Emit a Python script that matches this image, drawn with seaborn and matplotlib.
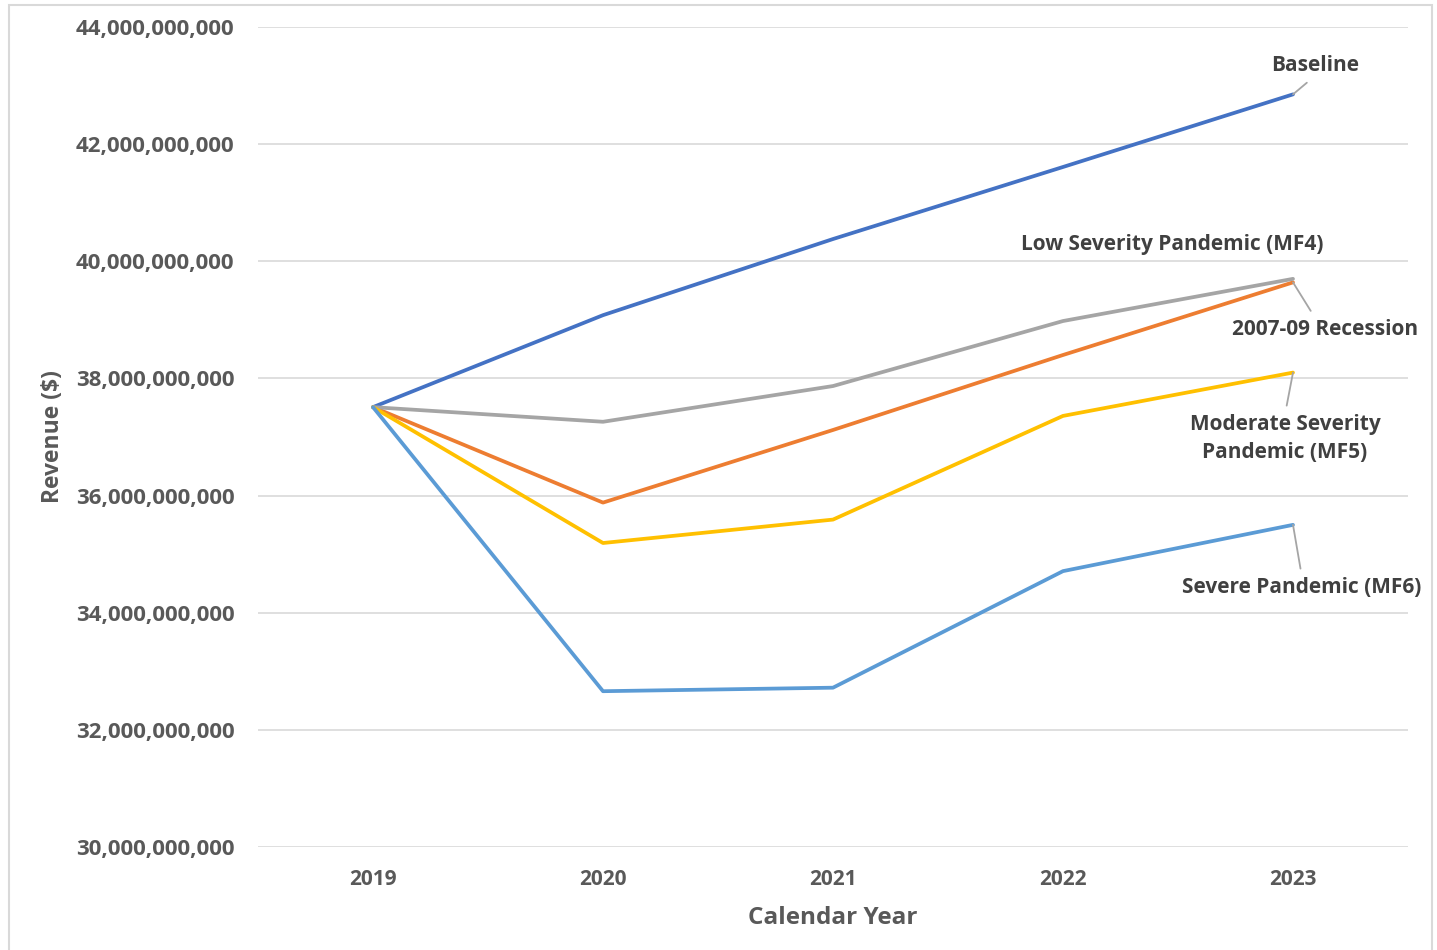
import matplotlib
matplotlib.use("Agg")
import matplotlib.pyplot as plt
from matplotlib.patches import Rectangle
from matplotlib.ticker import FuncFormatter, MultipleLocator
import seaborn as sns
import pandas as pd

# Revenue projections by scenario ($)
years = ["2019", "2020", "2021", "2022", "2023"]
baseline = [37.51e9, 39.08e9, 40.38e9, 41.61e9, 42.85e9]
recession = [37.51e9, 35.88e9, 37.12e9, 38.40e9, 39.64e9]
low_severity = [37.51e9, 37.26e9, 37.87e9, 38.98e9, 39.70e9]
moderate = [37.51e9, 35.19e9, 35.59e9, 37.36e9, 38.10e9]
severe = [37.51e9, 32.66e9, 32.72e9, 34.71e9, 35.50e9]

series_names = ["Baseline", "2007-09 Recession", "Low Severity Pandemic (MF4)",
                "Moderate Severity Pandemic (MF5)", "Severe Pandemic (MF6)"]
series_values = [baseline, recession, low_severity, moderate, severe]
series_colors = ["#4472C4", "#ED7D31", "#A5A5A5", "#FFC000", "#5B9BD5"]

rows = []
for name, vals in zip(series_names, series_values):
    for i, (yr, v) in enumerate(zip(years, vals)):
        rows.append({"Scenario": name, "Year": yr, "pos": i, "Revenue": v})
df = pd.DataFrame(rows)

sns.set_theme(style="white")
plt.rcParams["font.family"] = ["Open Sans", "DejaVu Sans"]

W, H = 1437, 950
fig = plt.figure(figsize=(W / 100, H / 100), dpi=100)
ax = fig.add_axes([258 / W, 1 - 847 / H, (1408 - 258) / W, (847 - 27) / H])

sns.lineplot(data=df, x="pos", y="Revenue", hue="Scenario", hue_order=series_names,
             palette=series_colors, linewidth=2.7, legend=False, ax=ax,
             estimator=None, sort=False)

text_color = "#595959"
ax.set_xlim(-0.5, len(years) - 0.5)
ax.set_ylim(30e9, 44e9)
ax.yaxis.set_major_locator(MultipleLocator(2e9))
ax.yaxis.set_major_formatter(FuncFormatter(lambda v, p: f"{v:,.0f}"))
ax.set_xticks(range(len(years)))
ax.set_xticklabels(years)
ax.grid(axis="y", color="#D9D9D9", linewidth=1.2)
ax.set_axisbelow(True)
for s in ax.spines.values():
    s.set_visible(False)
ax.tick_params(axis="both", length=0, labelcolor=text_color)
ax.tick_params(axis="y", pad=17, labelsize=16)
ax.tick_params(axis="x", pad=16, labelsize=15)
for lab in ax.get_xticklabels() + ax.get_yticklabels():
    lab.set_fontweight("bold")

ax.set_xlabel("Calendar Year", fontsize=17.5, fontweight="bold", color=text_color, labelpad=11)
ax.set_ylabel("Revenue ($)", fontsize=16.5, fontweight="bold", color=text_color, labelpad=8)

# Scenario labels with leader lines to the 2023 points
last = len(years) - 1
label_specs = [
    ("Baseline", baseline, (22, 29), (0.5, 0.0), True),
    ("Low Severity Pandemic (MF4)", low_severity, (-121, 34), (0.5, 0.0), False),
    ("2007-09 Recession", recession, (32, -47), (0.45, 1.0), True),
    ("Moderate Severity\nPandemic (MF5)", moderate, (-8, -66), (0.5, 1.0), True),
    ("Severe Pandemic (MF6)", severe, (9, -63), (0.5, 1.0), True),
]
for text, vals, off, rel, leader in label_specs:
    props = dict(arrowstyle="-", color="#A5A5A5", lw=1.3, shrinkA=4, shrinkB=0,
                 relpos=rel) if leader else None
    ax.annotate(text, xy=(last, vals[last]), xytext=off, textcoords="offset pixels",
                ha="center", va="center", fontsize=15, fontweight="bold",
                color="#404040", linespacing=1.4, arrowprops=props)

# Light chart-area frame
fig.patches.append(Rectangle((9 / W, -0.01), (1432 - 9) / W, 1.01 - 5 / H,
                             transform=fig.transFigure, fill=False,
                             edgecolor="#D9D9D9", linewidth=1.5))

fig.savefig("out.png", dpi=100, facecolor="white")
